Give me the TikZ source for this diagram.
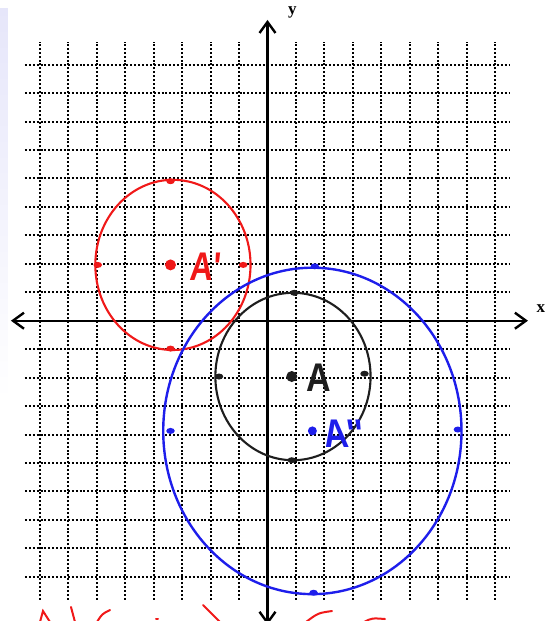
\documentclass[tikz,border=0pt]{standalone}
\usepackage{fontspec}
\setmainfont{Liberation Serif}
\newfontfamily\handfont[Ligatures=TeXOff]{Liberation Sans}
\usetikzlibrary{arrows.meta,shapes.geometric}
\definecolor{penred}{RGB}{240,25,25}
\definecolor{penblue}{RGB}{30,30,235}
\definecolor{pengray}{RGB}{30,30,30}
\definecolor{stripcol}{RGB}{230,230,250}
\begin{document}
\begin{tikzpicture}[x=24.25pt,y=27.9pt,
  gridline/.style={line width=2pt, dash pattern=on 2pt off 1.9pt},
  axis/.style={line width=2.4pt, {Straight Barb[length=11pt,width=16pt,line width=2.4pt]}-{Straight Barb[length=11pt,width=16pt,line width=2.4pt]}},
  blackpen/.style={draw=pengray, line width=2.1pt},
  redpen/.style={draw=penred, line width=2.1pt},
  bluepen/.style={draw=penblue, line width=2.4pt},
  ctrdot/.style={circle, inner sep=0pt, minimum size=11pt, fill=#1},
  ptdot/.style={ellipse, inner sep=0pt, minimum width=8.5pt, minimum height=6pt, fill=#1},
  hand/.style={font=\handfont\bfseries\fontsize{40}{40}\selectfont, inner sep=0pt},
  axlabel/.style={font=\bfseries\fontsize{17}{17}\selectfont, inner sep=0pt}]
\useasboundingbox (-11.031,-10.763) rectangle (11.402,11.495);
% faint strip at left edge
\begin{scope}[x=1pt,y=-1pt,shift={(-267.5pt,320.7pt)}]
  \shade[top color=stripcol, bottom color=white] (0,8) rectangle (8,400);
\end{scope}
% grid
\draw[gridline] (-10,-10) grid (10,10);
% axes
\coordinate (xl) at (-10.58,0);
\coordinate (xr) at (10.74,0);
\coordinate (yb) at (0,-10.9);
\coordinate (yt) at (0,10.78);
\draw[axis] (xl) -- (xr);
\draw[axis] (yb) -- (yt);
\node[axlabel] (ylab) at (1.03,11.06) {y};
\node[axlabel] (xlab) at (11.27,0.45) {x};
% red circle A'
\draw[redpen] (-3.9,2) ellipse [x radius=3.2, y radius=3.05];
\node[ctrdot=penred] (Ap) at (-4,2) {};
\node[hand, text=penred, xscale=0.8, xslant=0.1] (Aplab) at (-2.55,1.95) {A'};
\node[ptdot=penred] (rp1) at (-4,5) {};
\node[ptdot=penred] (rp2) at (-7,2) {};
\node[ptdot=penred] (rp3) at (-1,2) {};
\node[ptdot=penred] (rp4) at (-4,-1) {};
% black circle A
\draw[blackpen] (1.05,-2) ellipse [x radius=3.2, y radius=3];
\node[ctrdot=pengray] (A) at (1,-2) {};
\node[hand, text=pengray, xscale=0.85] (Alab) at (2.1,-2.05) {A};
\node[ptdot=pengray] (bp1) at (1.1,1) {};
\node[ptdot=pengray] (bp2) at (-2,-2) {};
\node[ptdot=pengray] (bp3) at (4,-1.9) {};
\node[ptdot=pengray] (bp4) at (1,-5) {};
% blue circle A''
\draw[bluepen] (1.85,-3.95) ellipse [x radius=6.15, y radius=5.85];
\node[ctrdot=penblue, minimum size=9pt] (App) at (1.85,-3.95) {};
\node[hand, text=penblue, xscale=0.85, xslant=-0.15] (Applab) at (3.15,-4.05) {A''};
\node[ptdot=penblue] (lp1) at (1.95,1.95) {};
\node[ptdot=penblue] (lp2) at (-4,-3.95) {};
\node[ptdot=penblue] (lp3) at (7.85,-3.9) {};
\node[ptdot=penblue] (lp4) at (1.9,-9.75) {};
% cut-off red handwriting at the bottom
\begin{scope}[x=1pt,y=-1pt,shift={(-267.5pt,320.7pt)}, redpen, line width=2pt, line cap=round]
  \draw (40,622) -- (43,611) -- (50,622);
  \draw (71,607) -- (75,622);
  \draw (110,610) .. controls (102,614) .. (97,622);
  \draw (156,619) -- (158,619);
  \draw (203,605) -- (220,622);
  \draw (332,611) .. controls (318,613) .. (306,622);
  \draw (364,622) .. controls (372,618) .. (385,619);
\end{scope}
\end{tikzpicture}
\end{document}
